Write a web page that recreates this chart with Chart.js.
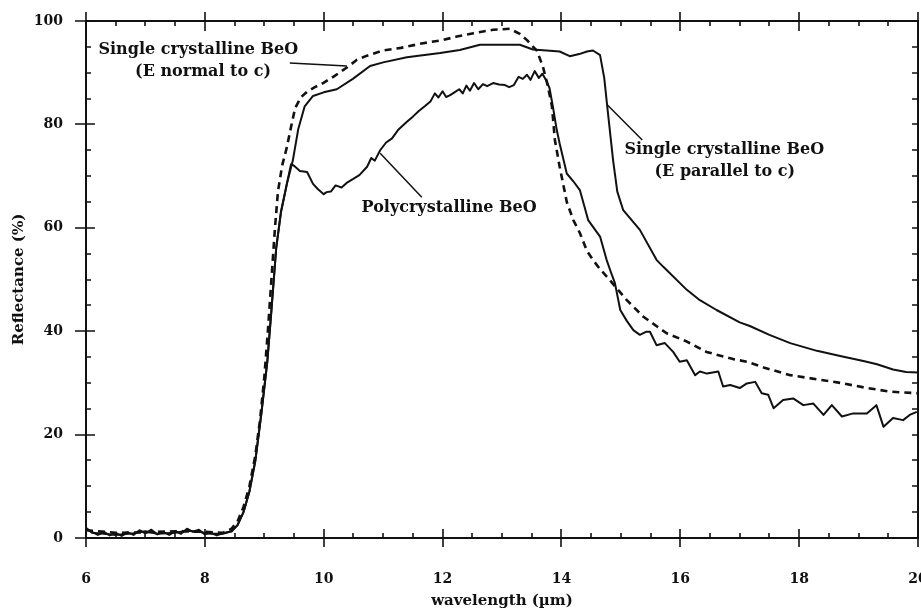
<!DOCTYPE html>
<html><head><meta charset="utf-8">
<script src="https://cdn.jsdelivr.net/npm/chart.js@4.4.1/dist/chart.umd.min.js"></script>
<style>html,body{margin:0;padding:0;background:#fff;}canvas{display:block;}</style>
</head><body>
<canvas id="c" width="921" height="613"></canvas>
<script>
// ---- data (wavelength µm, reflectance %) ----
const singleParallel = [[6.0,2.0],[6.1,1.0],[6.3,0.8],[6.5,0.6],[6.8,0.9],[7.0,1.3],[7.2,0.8],[7.5,1.0],[7.7,1.4],[7.9,1.2],[8.1,0.8],[8.3,0.8],[8.45,1.3],[8.55,2.5],[8.65,5],[8.75,9],[8.85,15],[8.95,24],[9.05,34],[9.12,44],[9.2,56],[9.28,63],[9.38,68.5],[9.48,73],[9.57,79],[9.68,83.5],[9.82,85.5],[10.0,86.2],[10.22,86.8],[10.49,88.8],[10.78,91.3],[11.0,92.0],[11.4,93.0],[11.96,93.8],[12.29,94.4],[12.63,95.4],[13.0,95.4],[13.3,95.4],[13.52,94.5],[13.75,94.3],[13.97,94.1],[14.14,93.2],[14.3,93.6],[14.43,94.1],[14.53,94.3],[14.65,93.4],[14.72,89],[14.77,83.6],[14.87,73],[14.94,67],[15.04,63.4],[15.32,59.6],[15.6,53.8],[15.71,52.5],[16.11,48.0],[16.33,46.0],[16.61,44.1],[17.0,41.7],[17.17,41.0],[17.5,39.3],[17.85,37.7],[18.3,36.2],[18.69,35.2],[19.1,34.2],[19.31,33.6],[19.58,32.6],[19.8,32.1],[20.0,32.0]];
const singleNormal = [[6.0,1.5],[6.5,1.0],[7.0,1.1],[7.5,1.3],[8.0,1.2],[8.3,1.0],[8.45,1.8],[8.55,3.2],[8.65,6],[8.75,10],[8.85,16],[8.93,23],[9.0,31],[9.06,40],[9.12,50],[9.18,60],[9.23,67],[9.3,72],[9.38,75.6],[9.45,79.5],[9.52,83.2],[9.62,85.3],[9.72,86.3],[9.85,87.2],[9.99,88],[10.16,89.2],[10.39,91],[10.56,92.5],[10.73,93.3],[11.0,94.3],[11.3,94.8],[11.67,95.7],[12.0,96.3],[12.24,97.0],[12.5,97.6],[12.85,98.3],[13.13,98.5],[13.3,97.5],[13.42,96.3],[13.59,94.2],[13.69,91.1],[13.77,87.5],[13.84,83.5],[13.89,77],[13.97,71.8],[14.09,65],[14.2,61.5],[14.31,59],[14.43,55.5],[14.53,53.8],[14.65,52],[14.82,49.8],[15.1,46],[15.38,42.8],[15.77,39.6],[16.11,38.0],[16.44,36.0],[16.89,34.6],[17.12,34.1],[17.4,33],[17.85,31.5],[18.3,30.7],[18.69,30],[19.1,29.1],[19.53,28.3],[20.0,28.0]];
const polycrystalline = [[6.0,1.8],[6.1,1.2],[6.2,0.6],[6.3,1.2],[6.4,0.5],[6.5,1.0],[6.6,0.4],[6.7,1.1],[6.8,0.6],[6.9,1.5],[7.0,0.9],[7.1,1.6],[7.2,0.7],[7.3,1.2],[7.4,0.6],[7.5,1.3],[7.6,0.8],[7.7,1.8],[7.8,1.2],[7.9,1.6],[8.0,0.7],[8.1,1.0],[8.2,0.5],[8.3,0.9],[8.45,1.3],[8.55,2.5],[8.65,5],[8.75,9],[8.85,15],[8.95,24],[9.05,34],[9.12,44],[9.2,56],[9.28,63],[9.38,68.5],[9.45,72.3],[9.5,72.0],[9.6,71.0],[9.72,70.8],[9.82,68.5],[9.9,67.5],[10.0,66.5],[10.05,66.9],[10.12,67.0],[10.2,68.2],[10.3,67.8],[10.4,68.8],[10.49,69.4],[10.6,70.2],[10.73,71.8],[10.8,73.5],[10.86,73.0],[10.95,75],[11.05,76.5],[11.15,77.3],[11.25,78.9],[11.4,80.5],[11.5,81.5],[11.6,82.6],[11.7,83.5],[11.8,84.5],[11.87,86.0],[11.93,85.2],[12.0,86.4],[12.06,85.3],[12.12,85.6],[12.2,86.2],[12.28,86.8],[12.34,86.0],[12.4,87.5],[12.46,86.5],[12.53,88.0],[12.6,86.8],[12.68,87.8],[12.75,87.4],[12.85,88.0],[12.95,87.7],[13.05,87.6],[13.12,87.2],[13.2,87.6],[13.28,89.2],[13.35,88.8],[13.42,89.6],[13.48,88.6],[13.55,90.3],[13.62,89.0],[13.68,89.8],[13.74,88.6],[13.8,87.0],[13.86,83.2],[13.92,79],[13.97,76.3],[14.09,70.5],[14.2,69],[14.31,67.3],[14.45,61.5],[14.65,58.3],[14.76,53.8],[14.83,51.5],[14.9,49.3],[14.99,44.1],[15.1,42.0],[15.21,40.2],[15.32,39.3],[15.43,39.9],[15.49,39.9],[15.6,37.3],[15.74,37.7],[15.88,36.0],[15.99,34.1],[16.11,34.4],[16.25,31.5],[16.33,32.2],[16.45,31.8],[16.64,32.2],[16.72,29.3],[16.84,29.6],[17.0,29.0],[17.12,29.9],[17.26,30.2],[17.37,28.0],[17.48,27.7],[17.57,25.1],[17.73,26.7],[17.9,27.0],[18.07,25.7],[18.24,26.0],[18.41,23.8],[18.55,25.7],[18.72,23.5],[18.91,24.1],[19.14,24.1],[19.3,25.7],[19.42,21.5],[19.58,23.2],[19.75,22.8],[19.86,23.8],[19.98,24.4]];

const xTickValues = [6, 8, 10, 12, 14, 16, 18, 20];
const xTickLabels = ['6', '8', '10', '12', '14', '16', '18', '20'];
const xMinorTicks = [6.5, 7, 7.5, 8.5, 9, 9.5, 10.5, 11, 11.5, 12.5, 13, 13.5, 14.5, 15, 15.5, 16.5, 17, 17.5, 18.5, 19, 19.5];
const yTickValues = [0, 20, 40, 60, 80, 100];
const yTickLabels = ['0', '20', '40', '60', '80', '100'];
const yMinorTicks = [5, 10, 15, 25, 30, 35, 45, 50, 55, 65, 70, 75, 85, 90, 95];

const xTitle = 'wavelength (µm)';
const yTitle = 'Reflectance (%)';

const labelTexts = [
  {lines: ['Single crystalline BeO', '(E normal to c)'], at: [[7.89, 94.4], [7.97, 90.1]]},
  {lines: ['Polycrystalline BeO'], at: [[12.11, 63.8]]},
  {lines: ['Single crystalline BeO', '(E parallel to c)'], at: [[16.74, 75.0], [16.75, 70.8]]}
];
const pointerLines = [
  [[9.43, 91.9], [10.39, 91.3]],
  [[10.95, 74.4], [11.65, 65.9]],
  [[14.77, 83.8], [15.36, 77.0]]
];

const SERIF = '"DejaVu Serif", "Liberation Serif", serif';
const toXY = arr => arr.map(p => ({x: p[0], y: p[1]}));

const decor = {
  id: 'decor',
  afterDatasetsDraw(chart) {
    const ctx = chart.ctx, a = chart.chartArea;
    const xs = chart.scales.x, ys = chart.scales.y;
    ctx.save();
    ctx.strokeStyle = '#111';
    ctx.lineWidth = 2;
    ctx.strokeRect(a.left, a.top, a.right - a.left, a.bottom - a.top);
    ctx.lineWidth = 1.6;
    ctx.beginPath();
    xTickValues.forEach(v => {
      const px = Math.round(xs.getPixelForValue(v));
      ctx.moveTo(px, a.bottom - 9); ctx.lineTo(px, a.bottom + 9);
      ctx.moveTo(px, a.top - 9); ctx.lineTo(px, a.top + 10);
    });
    xMinorTicks.forEach(v => {
      const px = Math.round(xs.getPixelForValue(v));
      ctx.moveTo(px, a.bottom - 5); ctx.lineTo(px, a.bottom);
      ctx.moveTo(px, a.top); ctx.lineTo(px, a.top + 5);
    });
    yTickValues.forEach(v => {
      const py = Math.round(ys.getPixelForValue(v));
      ctx.moveTo(a.left - 11, py); ctx.lineTo(a.left + 9, py);
      ctx.moveTo(a.right - 6, py); ctx.lineTo(a.right, py);
    });
    yMinorTicks.forEach(v => {
      const py = Math.round(ys.getPixelForValue(v));
      ctx.moveTo(a.left, py); ctx.lineTo(a.left + 5, py);
      ctx.moveTo(a.right - 6, py); ctx.lineTo(a.right, py);
    });
    ctx.stroke();
    // pointer lines
    ctx.lineWidth = 1.5;
    ctx.beginPath();
    pointerLines.forEach(l => {
      ctx.moveTo(xs.getPixelForValue(l[0][0]), ys.getPixelForValue(l[0][1]));
      ctx.lineTo(xs.getPixelForValue(l[1][0]), ys.getPixelForValue(l[1][1]));
    });
    ctx.stroke();
    // labels
    ctx.fillStyle = '#111';
    ctx.font = 'bold 16px ' + SERIF;
    ctx.textAlign = 'center';
    ctx.textBaseline = 'middle';
    labelTexts.forEach(t => {
      t.lines.forEach((s, i) => {
        ctx.fillText(s, xs.getPixelForValue(t.at[i][0]), ys.getPixelForValue(t.at[i][1]));
      });
    });
    ctx.restore();
  }
};

new Chart(document.getElementById('c'), {
  type: 'line',
  data: {
    datasets: [
      {label: 'Single crystalline BeO (E parallel to c)', data: toXY(singleParallel), borderColor: '#111', borderWidth: 2, fill: false},
      {label: 'Single crystalline BeO (E normal to c)', data: toXY(singleNormal), borderColor: '#111', borderWidth: 2.6, borderDash: [7, 5], fill: false},
      {label: 'Polycrystalline BeO', data: toXY(polycrystalline), borderColor: '#111', borderWidth: 2, fill: false}
    ]
  },
  options: {
    responsive: false,
    animation: false,
    devicePixelRatio: 1,
    layout: {padding: {top: 21, right: 3, left: 0, bottom: 0}},
    plugins: {legend: {display: false}, tooltip: {enabled: false}},
    elements: {point: {radius: 0}, line: {tension: 0, borderJoinStyle: 'round'}},
    scales: {
      x: {
        type: 'linear', min: 6, max: 20,
        afterBuildTicks: s => { s.ticks = xTickValues.map(v => ({value: v})); },
        afterFit: s => { s.height = 75; s.paddingLeft = 0; s.paddingRight = 0; },
        ticks: {
          autoSkip: false, maxRotation: 0, padding: 33, color: '#111',
          font: {family: SERIF, size: 14, weight: 'bold'},
          callback: v => xTickLabels[xTickValues.indexOf(v)]
        },
        grid: {display: false, drawTicks: false},
        border: {display: false},
        title: {display: true, text: xTitle, color: '#111', font: {family: SERIF, size: 15, weight: 'bold'}, padding: {top: 0, bottom: 3}}
      },
      y: {
        type: 'linear', min: 0, max: 100,
        afterBuildTicks: s => { s.ticks = yTickValues.map(v => ({value: v})); },
        afterFit: s => { s.width = 86; s.paddingTop = 0; s.paddingBottom = 0; },
        ticks: {
          autoSkip: false, padding: 23, color: '#111',
          font: {family: SERIF, size: 14, weight: 'bold'},
          callback: v => yTickLabels[yTickValues.indexOf(v)]
        },
        grid: {display: false, drawTicks: false},
        border: {display: false},
        title: {display: true, text: yTitle, color: '#111', font: {family: SERIF, size: 15, weight: 'bold'}, padding: {top: 10, bottom: 0}}
      }
    }
  },
  plugins: [decor]
});
</script>
</body></html>
